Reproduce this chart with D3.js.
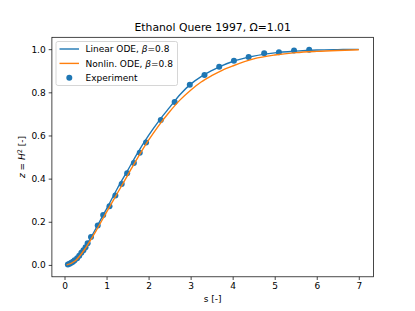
<!DOCTYPE html>
<html>
<head>
<meta charset="utf-8">
<script src="https://cdn.jsdelivr.net/npm/d3@7"></script>
<style>
  body { margin: 0; background: #fff; }
  text { font-family: "DejaVu Sans", sans-serif; fill: #000; }
</style>
</head>
<body>
<div id="chart"></div>
<script>
'use strict';

// experiment points (s, z)
var expS = [0.08, 0.12, 0.16, 0.2, 0.24, 0.3, 0.35, 0.4, 0.45, 0.5, 0.55, 0.63, 0.79, 0.92, 1.07, 1.21, 1.36, 1.49, 1.65, 1.79, 1.94,
  2.29, 2.62, 2.98, 3.33, 3.68, 4.03, 4.38, 4.75, 5.1, 5.46, 5.82];
var expZ = [0.002, 0.006, 0.01, 0.015, 0.022, 0.031, 0.043, 0.057, 0.068, 0.082, 0.1, 0.13, 0.183, 0.231, 0.272, 0.322, 0.375, 0.425, 0.473, 0.52, 0.567,
  0.672, 0.755, 0.835, 0.88, 0.918, 0.946, 0.964, 0.981, 0.986, 0.994, 0.997];

// model curves
var modelS = [0.05, 0.25, 0.5, 0.75, 1.0, 1.25, 1.5, 1.75, 2.0, 2.25, 2.5, 2.75, 3.0, 3.25, 3.5, 3.75, 4.0, 4.5, 5.0, 5.5, 6.0, 6.5, 7.0];
var linearZ = [0.0, 0.02, 0.085, 0.17, 0.26, 0.352, 0.437, 0.523, 0.6, 0.669, 0.73, 0.79, 0.838, 0.873, 0.9, 0.924, 0.943, 0.968, 0.983, 0.991, 0.996, 0.998, 0.999];
var nonlinZ = [0.0, 0.018, 0.078, 0.158, 0.245, 0.33, 0.415, 0.5, 0.578, 0.648, 0.71, 0.765, 0.81, 0.848, 0.877, 0.902, 0.922, 0.955, 0.973, 0.984, 0.99, 0.994, 0.997];

var xTicks = [0, 1, 2, 3, 4, 5, 6, 7];
var yTicks = [0.0, 0.2, 0.4, 0.6, 0.8, 1.0];

var W = 415, H = 311;
var mLeft = 51.9, mRight = 373.5, mTop = 37.3, mBottom = 276.8;
var blue = '#1f77b4', orange = '#ff7f0e';

var svg = d3.select('#chart').append('svg')
  .attr('width', W).attr('height', H);

var x = d3.scaleLinear().domain([-0.3, 7.35]).range([mLeft, mRight]);
var y = d3.scaleLinear().domain([-0.055, 1.055]).range([mBottom, mTop]);

svg.append('clipPath').attr('id', 'clip')
  .append('rect').attr('x', mLeft).attr('y', mTop)
  .attr('width', mRight - mLeft).attr('height', mBottom - mTop);

var plot = svg.append('g').attr('clip-path', 'url(#clip)');

// scatter under the lines
plot.selectAll('circle.exp')
  .data(expS)
  .enter().append('circle')
  .attr('class', 'exp')
  .attr('cx', function (d) { return x(d); })
  .attr('cy', function (d, i) { return y(expZ[i]); })
  .attr('r', 3)
  .attr('fill', blue);

var line = d3.line().curve(d3.curveMonotoneX)
  .x(function (d) { return x(d[0]); })
  .y(function (d) { return y(d[1]); });

plot.append('path')
  .datum(d3.zip(modelS, linearZ))
  .attr('d', line)
  .attr('fill', 'none').attr('stroke', blue).attr('stroke-width', 1.4);

plot.append('path')
  .datum(d3.zip(modelS, nonlinZ))
  .attr('d', line)
  .attr('fill', 'none').attr('stroke', orange).attr('stroke-width', 1.4);

// axes
var xAxis = d3.axisBottom(x).tickValues(xTicks).tickFormat(d3.format('d'))
  .tickSizeOuter(0).tickSize(3.2).tickPadding(3);
var yAxis = d3.axisLeft(y).tickValues(yTicks).tickFormat(d3.format('.1f'))
  .tickSizeOuter(0).tickSize(3.2).tickPadding(3);

var gx = svg.append('g').attr('transform', 'translate(0,' + mBottom + ')').call(xAxis);
var gy = svg.append('g').attr('transform', 'translate(' + mLeft + ',0)').call(yAxis);
[gx, gy].forEach(function (g) {
  g.select('.domain').remove();
  g.selectAll('line').attr('stroke', '#000').attr('stroke-width', 0.72);
  g.selectAll('text').attr('font-size', 9).attr('font-family', '"DejaVu Sans", sans-serif');
});

// frame
svg.append('rect')
  .attr('x', mLeft).attr('y', mTop)
  .attr('width', mRight - mLeft).attr('height', mBottom - mTop)
  .attr('fill', 'none').attr('stroke', '#000').attr('stroke-width', 0.72);

// title and labels
svg.append('text')
  .attr('x', (mLeft + mRight) / 2).attr('y', 30.5)
  .attr('text-anchor', 'middle').attr('font-size', 10.8)
  .text('Ethanol Quere 1997, \u03A9=1.01');

svg.append('text')
  .attr('x', (mLeft + mRight) / 2).attr('y', 302)
  .attr('text-anchor', 'middle').attr('font-size', 9)
  .text('s [-]');

var yl = svg.append('text')
  .attr('transform', 'translate(25,' + ((mTop + mBottom) / 2) + ') rotate(-90)')
  .attr('text-anchor', 'middle').attr('font-size', 9);
yl.append('tspan').attr('font-style', 'italic').text('z');
yl.append('tspan').text(' = ');
yl.append('tspan').attr('font-style', 'italic').text('H');
yl.append('tspan').attr('font-size', 6.5).attr('dy', -3.5).text('2');
yl.append('tspan').attr('dy', 3.5).text(' [-]');

// legend
var legendNames = ['Linear ODE, ', 'Nonlin. ODE, ', 'Experiment'];
var lg = svg.append('g');
lg.append('rect')
  .attr('x', 56).attr('y', 41.5).attr('width', 121.5).attr('height', 44)
  .attr('rx', 2).attr('fill', '#fff').attr('fill-opacity', 0.8)
  .attr('stroke', '#ccc').attr('stroke-width', 0.8);

legendNames.forEach(function (name, i) {
  var cy = 49 + i * 14.4;
  if (i < 2) {
    lg.append('line')
      .attr('x1', 59.5).attr('x2', 79).attr('y1', cy).attr('y2', cy)
      .attr('stroke', i === 0 ? blue : orange).attr('stroke-width', 1.4);
  } else {
    lg.append('circle').attr('cx', 69.3).attr('cy', cy).attr('r', 3).attr('fill', blue);
  }
  var t = lg.append('text').attr('x', 85.5).attr('y', cy + 3.3).attr('font-size', 9);
  t.append('tspan').text(name);
  if (i < 2) {
    t.append('tspan').attr('font-style', 'italic').text('\u03B2');
    t.append('tspan').text('=0.8');
  }
});
</script>
</body>
</html>
